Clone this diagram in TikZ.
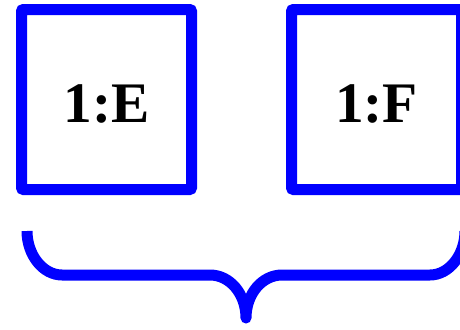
\documentclass[tikz,border=0pt]{standalone}
\usepackage{fontspec}
\setmainfont{Liberation Serif}
\begin{document}
\begin{tikzpicture}[x=0.75pt,y=-0.75pt,line width=8.25pt,
  box/.style={draw=blue, rectangle, rounded corners=1.5pt, minimum width=127.5pt, minimum height=135pt,
    text height=34pt, text depth=0pt, font=\fontsize{43}{43}\selectfont\bfseries}]

 \useasboundingbox (0,0) rectangle (460,329);
 \clip (0,0) rectangle (460,329);
 \node[box] (e) at (106.5,99.5){1:E};
 \node[box] (f) at (376.5,99.5){1:F};
 \draw[blue, line join=round](27,231) .. controls (27,255) and (43,275) .. (62,275)--(210,275)
   .. controls (230,275) and (246,294) .. (246,318)
   .. controls (246,294) and (262,275) .. (282,275)--(430,275)
   .. controls (449,275) and (465,255) .. (465,231);

\end{tikzpicture}
\end{document}
